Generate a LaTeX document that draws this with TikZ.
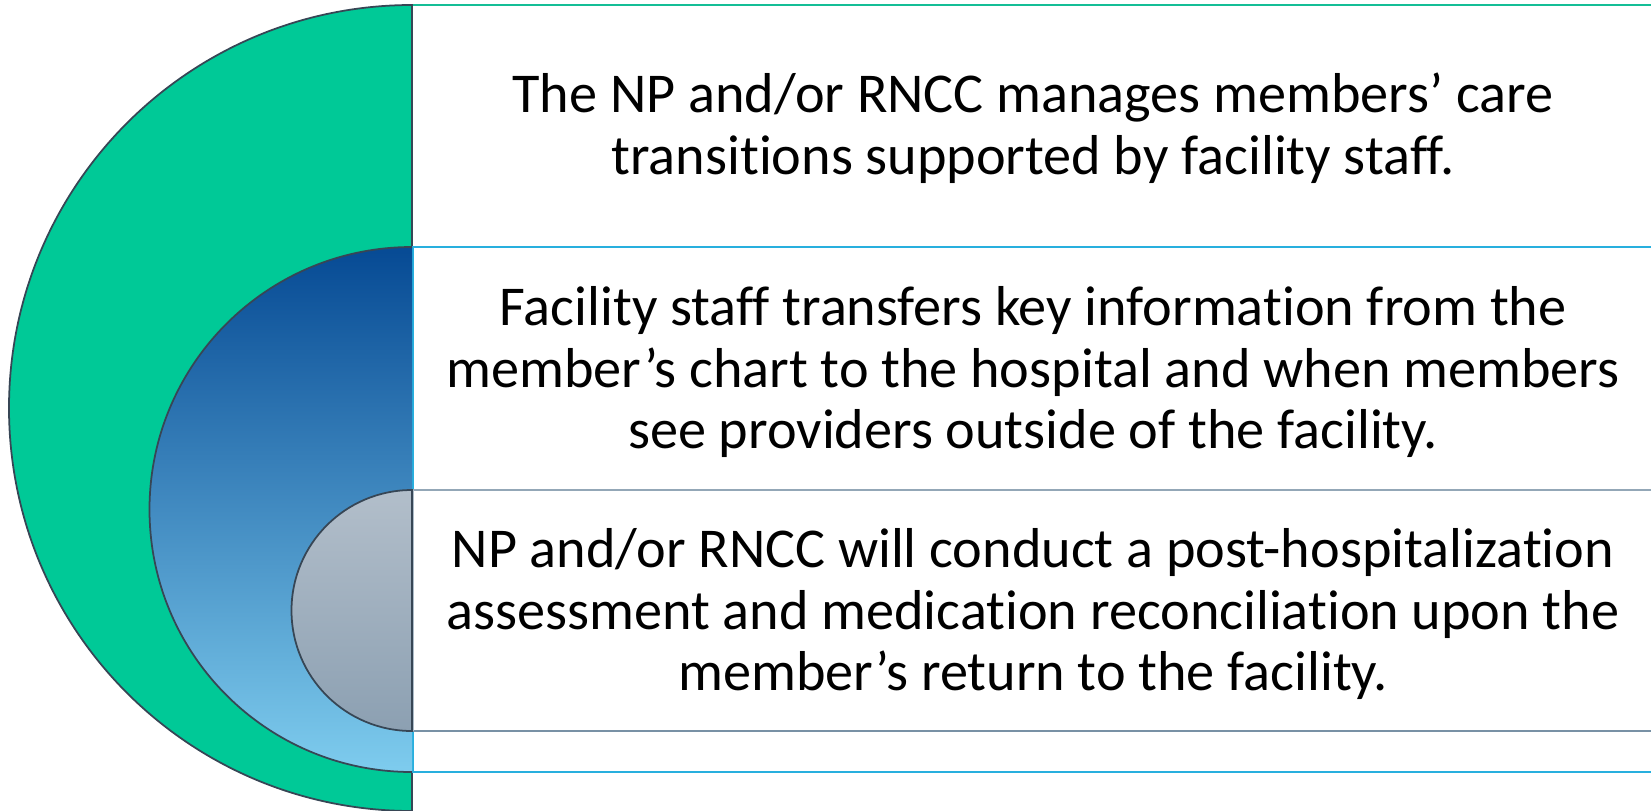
\documentclass[tikz,border=0pt]{standalone}
\usepackage{fontspec}
\setmainfont[Ligatures={NoCommon}]{Carlito}
\definecolor{ringgreen}{RGB}{0,201,151}
\definecolor{greenline}{RGB}{20,190,150}
\definecolor{bluetop}{RGB}{6,74,148}
\definecolor{bluebot}{RGB}{126,204,238}
\definecolor{blueline}{RGB}{40,175,222}
\definecolor{graytop}{RGB}{178,190,202}
\definecolor{graybot}{RGB}{140,160,178}
\definecolor{grayline}{RGB}{120,145,165}
\definecolor{rimline}{RGB}{55,70,85}
\tikzset{
  band/.style={line width=0.6pt},
  rim/.style={draw=rimline, line width=0.5pt},
  bandtext/.style={align=center, font=\fontsize{16}{17.6}\selectfont, text=black}
}

\begin{document}
\begin{tikzpicture}
        \useasboundingbox (0,0) rectangle (16.51,8.10);

        % Outer band and half disc
        \draw[band, greenline] (4.12,8.05) -- (16.60,8.05);
        \draw[band, greenline!50] (4.12,8.05) -- (4.12,-0.01);
        \draw[rim, fill=ringgreen] (4.12,8.05) arc (90:270:4.03) -- cycle;

        % Middle band and half disc
        \draw[band, blueline] (4.12,5.63) -- (16.60,5.63);
        \draw[band, blueline] (4.12,0.38) -- (16.60,0.38);
        \draw[band, blueline] (4.13,5.63) -- (4.13,0.38);
        \shade[top color=bluetop, bottom color=bluebot] (4.12,5.63) arc (90:270:2.625) -- cycle;
        \draw[rim] (4.12,5.63) arc (90:270:2.625);

        % Inner band and half disc
        \draw[band, grayline!80] (4.12,3.20) -- (16.60,3.20);
        \draw[band, grayline] (4.12,0.79) -- (16.60,0.79);
        \draw[band, grayline!60] (4.13,3.20) -- (4.13,0.79);
        \shade[top color=graytop, bottom color=graybot] (4.12,3.20) arc (90:270:1.205) -- cycle;
        \draw[rim] (4.12,3.20) arc (90:270:1.205) -- cycle;

        % Texts
        \node[bandtext] (outertext) at (10.33,6.82)
          {The NP and/or RNCC manages members’ care\\transitions supported by facility staff.};
        \node[bandtext] (middletext) at (10.33,4.38)
          {Facility staff transfers key information from the\\member’s chart to the hospital and when members\\see providers outside of the facility.};
        \node[bandtext] (innertext) at (10.33,1.96)
          {NP and/or RNCC will conduct a post-hospitalization\\assessment and medication reconciliation upon the\\member’s return to the facility.};

     \end{tikzpicture}
\end{document}
